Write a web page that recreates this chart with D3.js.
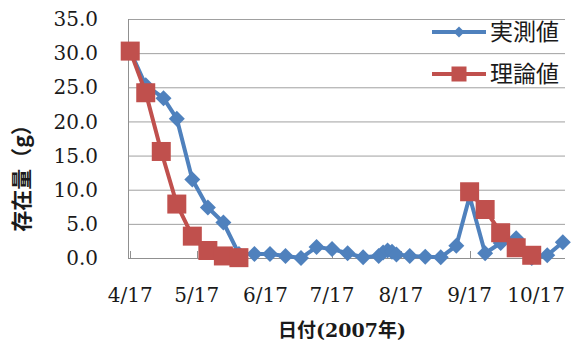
<!DOCTYPE html>
<html>
<head>
<meta charset="utf-8">
<script src="https://cdn.jsdelivr.net/npm/d3@7"></script>
<style>
html,body{margin:0;padding:0;background:#fff;}
svg{display:block;}
</style>
</head>
<body>
<svg id="chart" width="571" height="344"></svg>
<script>
// ---- data ----
const measuredDates = ["2007-04-17","2007-04-24","2007-05-02","2007-05-08","2007-05-15","2007-05-22","2007-05-29","2007-06-05","2007-06-12","2007-06-19","2007-06-26","2007-07-03","2007-07-10","2007-07-17","2007-07-24","2007-07-31","2007-08-07","2007-08-09","2007-08-11","2007-08-13","2007-08-15","2007-08-21","2007-08-28","2007-09-04","2007-09-11","2007-09-17","2007-09-24","2007-10-01","2007-10-08","2007-10-15","2007-10-22","2007-10-29"];
const measuredValues = [30.3,25.3,23.4,20.4,11.5,7.4,5.2,0.6,0.6,0.6,0.3,0.0,1.6,1.3,0.7,0.1,0.3,0.8,1.1,0.9,0.5,0.3,0.2,0.1,1.8,9.0,0.7,2.2,2.9,0.0,0.4,2.3];
const theoryDates = ["2007-04-17","2007-04-24","2007-05-01","2007-05-08","2007-05-15","2007-05-22","2007-05-29","2007-06-05","2007-09-17","2007-09-24","2007-10-01","2007-10-08","2007-10-15"];
const theoryValues = [30.3,24.2,15.6,7.9,3.2,1.1,0.3,0.05,9.7,7.1,3.7,1.5,0.4];
const theorySegments = [[0,8],[8,13]];
const xTickDates = ["2007-04-17","2007-05-17","2007-06-17","2007-07-17","2007-08-17","2007-09-17","2007-10-17"];
const xTickLabels = ["4/17","5/17","6/17","7/17","8/17","9/17","10/17"];
const yTicks = [0,5,10,15,20,25,30,35];
const seriesNames = ["実測値","理論値"];
const xTitle = "日付(2007年)";
const yTitle = "存在量（g）";

// ---- setup ----
const parse = d3.timeParse("%Y-%m-%d");
const svg = d3.select("#chart");
const blue = "#4F81BD", red = "#C0504D";
const serif = "'DejaVu Serif','Liberation Serif','Noto Sans CJK JP',serif";
const cjk = "'Noto Sans CJK JP','DejaVu Sans',sans-serif";

const x = d3.scaleTime().domain([parse("2007-04-16"), parse("2007-10-30")]).range([128, 565]);
const y = d3.scaleLinear().domain([0, 35]).range([258, 19]);

svg.append("rect").attr("width",571).attr("height",344).attr("fill","#fff");

// gridlines
svg.append("g").selectAll("line").data(yTicks.filter(d=>d>0)).join("line")
  .attr("x1", x.range()[0]).attr("x2", x.range()[1])
  .attr("y1", d=>y(d)+0.5).attr("y2", d=>y(d)+0.5)
  .attr("stroke","#a0a0a0").attr("stroke-width",1);

// axes lines
svg.append("line").attr("x1",128.5).attr("x2",128.5).attr("y1",y(35)).attr("y2",y(0)+0.5)
  .attr("stroke","#909090");
svg.append("line").attr("x1",128).attr("x2",565).attr("y1",y(0)+0.5).attr("y2",y(0)+0.5)
  .attr("stroke","#909090");
// x ticks (inside)
svg.append("g").selectAll("line").data(xTickDates).join("line")
  .attr("x1", d=>Math.round(x(parse(d)))+0.5).attr("x2", d=>Math.round(x(parse(d)))+0.5)
  .attr("y1", y(0)).attr("y2", y(0)-7)
  .attr("stroke","#909090");

// y tick labels
svg.append("g").selectAll("text").data(yTicks).join("text")
  .attr("x", 98).attr("y", d=>y(d))
  .attr("dy","0.36em")
  .attr("text-anchor","end")
  .attr("font-family", serif).attr("font-size", 20)
  .attr("fill","#1a1a1a")
  .text(d=>d.toFixed(1));

// x tick labels
svg.append("g").selectAll("text").data(xTickDates).join("text")
  .attr("x", d=>x(parse(d))).attr("y", 302)
  .attr("text-anchor","middle")
  .attr("font-family", serif).attr("font-size", 20)
  .attr("fill","#1a1a1a")
  .text((d,i)=>xTickLabels[i]);

// axis titles
svg.append("text").attr("x",342).attr("y",337).attr("text-anchor","middle")
  .attr("font-family", serif).attr("font-size",19).attr("font-weight","bold")
  .attr("fill","#1a1a1a").text(xTitle);
svg.append("text").attr("transform","translate(29,173) rotate(-90)")
  .attr("text-anchor","middle")
  .attr("font-family", cjk).attr("font-size",21).attr("font-weight","bold")
  .attr("fill","#1a1a1a").text(yTitle);

// series
const measured = measuredDates.map((d,i)=>({x:parse(d), v:measuredValues[i]}));
const theory = theoryDates.map((d,i)=>({x:parse(d), v:theoryValues[i]}));
const line = d3.line().x(d=>x(d.x)).y(d=>y(d.v));

svg.append("path").datum(measured).attr("d",line)
  .attr("fill","none").attr("stroke",blue).attr("stroke-width",4).attr("stroke-linejoin","round");
const dia = 8;
svg.append("g").selectAll("path").data(measured).join("path")
  .attr("d", d=>{const cx=x(d.x), cy=y(d.v); return `M${cx},${cy-dia}L${cx+dia},${cy}L${cx},${cy+dia}L${cx-dia},${cy}Z`;})
  .attr("fill",blue);

theorySegments.forEach(([a,b])=>{
  svg.append("path").datum(theory.slice(a,b)).attr("d",line)
    .attr("fill","none").attr("stroke",red).attr("stroke-width",4).attr("stroke-linejoin","round");
});
const sq = 9.5;
svg.append("g").selectAll("rect").data(theory).join("rect")
  .attr("x", d=>x(d.x)-sq).attr("y", d=>y(d.v)-sq)
  .attr("width", sq*2).attr("height", sq*2)
  .attr("fill",red);

// legend
const lg = svg.append("g");
const rows = [{name:seriesNames[0], color:blue, y:32, mark:"diamond"},{name:seriesNames[1], color:red, y:74, mark:"square"}];
rows.forEach(r=>{
  lg.append("line").attr("x1",432).attr("x2",486).attr("y1",r.y).attr("y2",r.y)
    .attr("stroke",r.color).attr("stroke-width",4);
  if (r.mark==="diamond") {
    const s=5.5;
    lg.append("path").attr("d",`M459,${r.y-s}L${459+s},${r.y}L459,${r.y+s}L${459-s},${r.y}Z`).attr("fill",r.color);
  } else {
    lg.append("rect").attr("x",459-7.5).attr("y",r.y-7.5).attr("width",15).attr("height",15).attr("fill",r.color);
  }
  lg.append("text").attr("x",490).attr("y",r.y).attr("dy","0.36em")
    .attr("font-family",cjk).attr("font-size",23).attr("fill","#1a1a1a").text(r.name);
});
</script>
</body>
</html>
